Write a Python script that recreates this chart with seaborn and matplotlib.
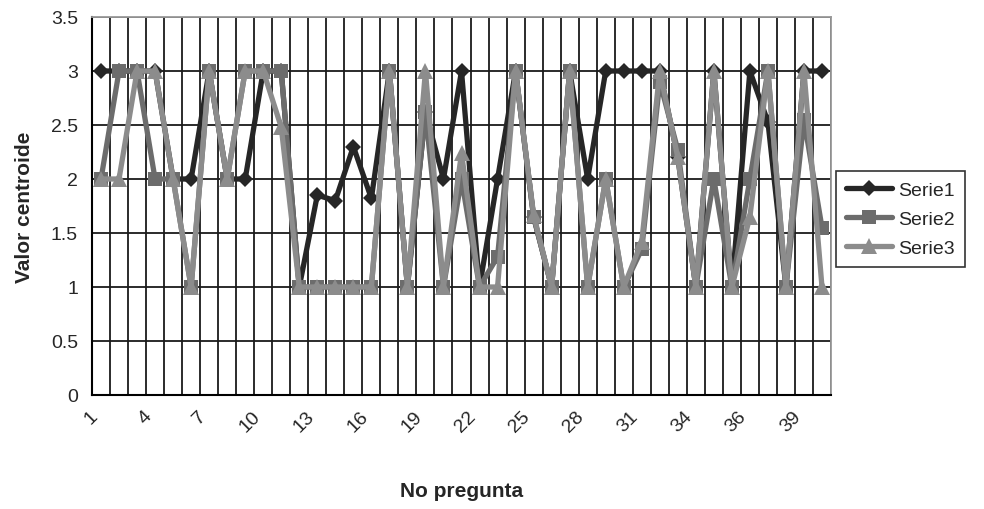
import numpy as np
import pandas as pd
import matplotlib
matplotlib.use("Agg")
import matplotlib.pyplot as plt
import matplotlib.transforms as mtransforms
from matplotlib.ticker import FixedLocator, FuncFormatter
import seaborn as sns

# Datos
preguntas = list(range(1, 42))
serie1 = [3, 3, 3, 3, 2, 2, 3, 2, 2, 3, 3, 1, 1.85, 1.8, 2.3, 1.82, 3, 1, 2.62, 2,
          3, 1, 2, 3, 1.65, 1, 3, 2, 3, 3, 3, 3, 2.2, 1, 3, 1, 3, 2.53, 1, 3, 3]
serie2 = [2, 3, 3, 2, 2, 1, 3, 2, 3, 3, 3, 1, 1, 1, 1, 1, 3, 1, 2.62, 1,
          2, 1, 1.28, 3, 1.65, 1, 3, 1, 2, 1, 1.35, 2.9, 2.27, 1, 2, 1, 2, 3, 1, 2.55, 1.55]
serie3 = [2, 2, 3, 3, 2, 1, 3, 2, 3, 3, 2.48, 1, 1, 1, 1, 1, 3, 1, 3, 1,
          2.24, 1, 1, 3, 1.67, 1, 3, 1, 2, 1, 1.42, 3, 2.2, 1, 3, 1, 1.65, 3, 1, 3, 1]
series = ["Serie1", "Serie2", "Serie3"]
tick_pos = [1, 4, 7, 10, 13, 16, 19, 22, 25, 28, 31, 34, 37, 40]
tick_labels = ["1", "4", "7", "10", "13", "16", "19", "22", "25", "28", "31", "34", "36", "39"]

df = pd.DataFrame({
    "pregunta": preguntas * 3,
    "valor": serie1 + serie2 + serie3,
    "serie": [s for s in series for _ in preguntas],
})

sns.set_style("white")
plt.rcParams['font.family'] = ['Liberation Sans', 'DejaVu Sans']

fig = plt.figure(figsize=(9.84, 5.10), dpi=100)
ax = fig.add_axes([92 / 984, 1 - 396 / 510, (831 - 92) / 984, (396 - 18) / 510])

ax.set_axisbelow(True)
sns.lineplot(data=df, x="pregunta", y="valor", hue="serie", style="serie",
             hue_order=series, style_order=series,
             palette={"Serie1": "#262626", "Serie2": "#6c6c6c", "Serie3": "#8c8c8c"},
             markers={"Serie1": "D", "Serie2": "s", "Serie3": "^"},
             dashes=False, linewidth=3.8, markersize=10, markeredgewidth=0,
             ax=ax, legend=True)

# diamond a bit smaller so it hides behind the squares like in Excel
msize = {"D": 8.3, "s": 10, "^": 11.5}
for ln in ax.lines:
    m = ln.get_marker()
    if m in msize:
        ln.set_markersize(msize[m])

ax.set_xlim(0.5, 41.5)
ax.set_ylim(0, 3.5)
ax.set_yticks(np.arange(0, 3.51, 0.5))
ax.yaxis.set_major_formatter(FuncFormatter(lambda v, p: "%g" % v))
ax.xaxis.set_major_locator(FixedLocator(tick_pos))
ax.set_xticklabels(tick_labels, rotation=45, ha="right")
shift = mtransforms.ScaledTranslation(-7 / 100, 0, fig.dpi_scale_trans)
for lab in ax.get_xticklabels():
    lab.set_transform(lab.get_transform() + shift)
ax.xaxis.set_minor_locator(FixedLocator(np.arange(0.5, 42, 1)))
ax.tick_params(axis="x", which="major", length=0, pad=9, labelsize=14)
ax.tick_params(axis="x", which="minor", length=8, direction="inout", width=1.2, color="black")
ax.tick_params(axis="y", which="major", length=6, direction="out", width=1.2, color="black",
               labelsize=14, pad=4)

ax.grid(True, axis="x", which="minor", color="#1a1a1a", linewidth=1.3)
ax.grid(True, axis="y", which="major", color="#1a1a1a", linewidth=1.3)
ax.grid(False, axis="x", which="major")

for s in ["left", "bottom"]:
    ax.spines[s].set_color("black")
    ax.spines[s].set_linewidth(1.5)
for s in ["top", "right"]:
    ax.spines[s].set_color("#9a9a9a")
    ax.spines[s].set_linewidth(1.3)

ax.set_xlabel("No pregunta", fontsize=15, fontweight="bold", labelpad=33)
ax.set_ylabel("Valor centroide", fontsize=15, fontweight="bold", labelpad=12)

leg = ax.legend(loc="center left", bbox_to_anchor=(836 / 984, 1 - 220 / 510),
                bbox_transform=fig.transFigure, frameon=True, fancybox=False,
                edgecolor="black", fontsize=14, handlelength=2.4, borderpad=0.5,
                labelspacing=0.6, handletextpad=0.3, borderaxespad=0)
leg.get_frame().set_linewidth(1.2)

fig.savefig("out.png", dpi=100)
